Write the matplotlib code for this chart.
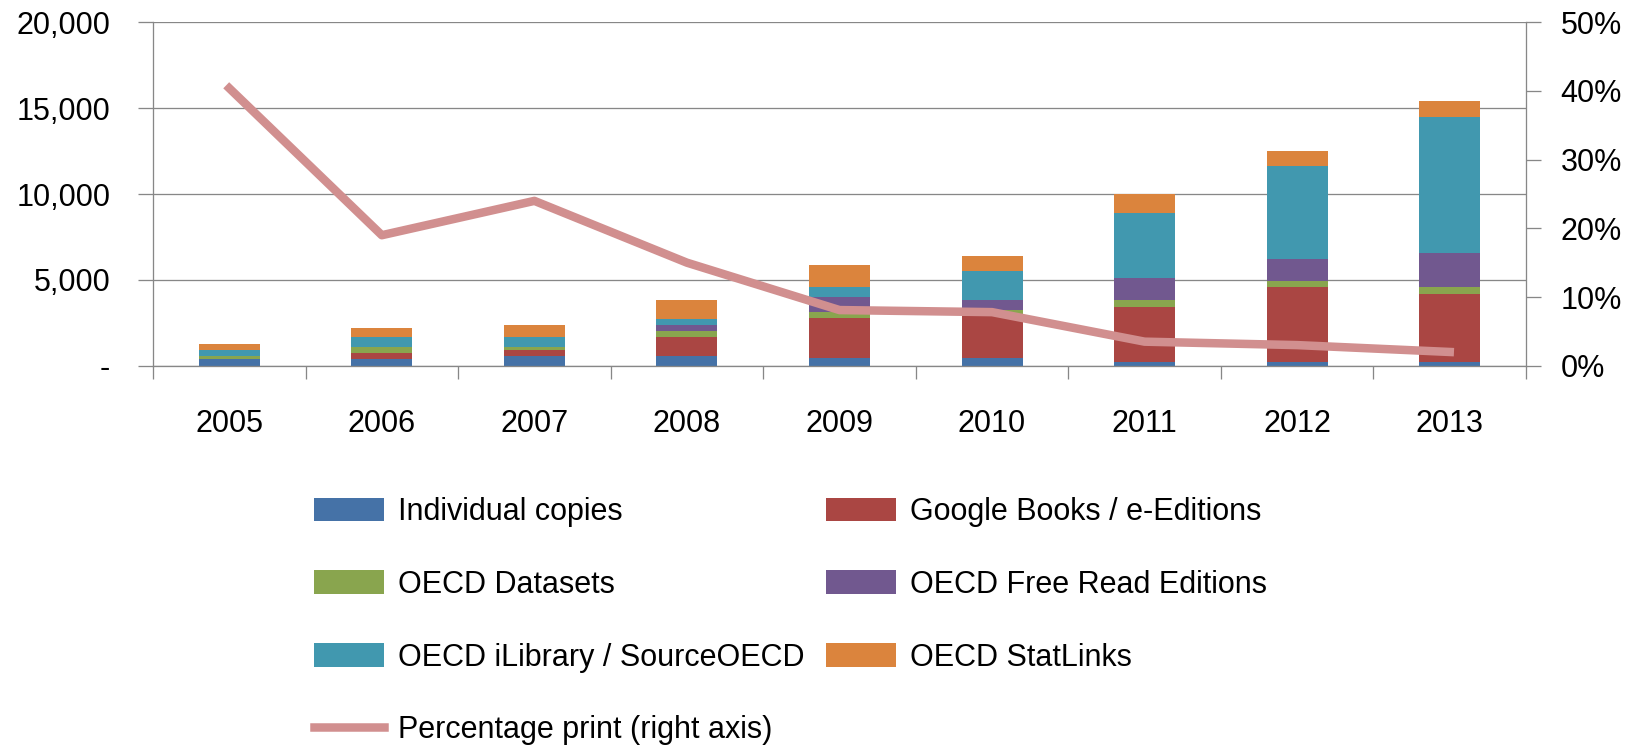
import numpy as np
import matplotlib.pyplot as plt
from matplotlib.ticker import FuncFormatter

plt.rcParams['font.family'] = ['Liberation Sans', 'DejaVu Sans']
plt.rcParams['font.size'] = 22

years = ['2005', '2006', '2007', '2008', '2009', '2010', '2011', '2012', '2013']
individual = [370, 390, 545, 545, 430, 430, 235, 235, 235]
google = [0, 330, 350, 1110, 2335, 2490, 3210, 4320, 3970]
datasets = [175, 350, 175, 350, 350, 350, 410, 350, 350]
free_read = [0, 0, 0, 350, 915, 585, 1225, 1285, 1985]
ilibrary = [350, 585, 585, 350, 525, 1635, 3795, 5450, 7940]
statlinks = [350, 525, 700, 1110, 1285, 875, 1110, 855, 935]
pct_print = [0.404, 0.190, 0.240, 0.150, 0.081, 0.078, 0.035, 0.030, 0.020]

series = [
    ('Individual copies', individual, '#4572A7'),
    ('Google Books / e-Editions', google, '#AA4643'),
    ('OECD Datasets', datasets, '#89A54E'),
    ('OECD Free Read Editions', free_read, '#71588F'),
    ('OECD iLibrary / SourceOECD', ilibrary, '#4198AF'),
    ('OECD StatLinks', statlinks, '#DB843D'),
]

grey = '#878787'
px = 0.72  # points per pixel at dpi 100

fig = plt.figure(figsize=(16.4, 7.49), dpi=100)
ax = fig.add_axes([153 / 1640, 1 - 365.7 / 749, (1526 - 153) / 1640, (365.7 - 22.3) / 749])

x = np.arange(len(years))
bottom = np.zeros(len(years))
handles = {}
for name, vals, col in series:
    b = ax.bar(x, vals, 0.40, bottom=bottom, color=col, label=name, zorder=2)
    handles[name] = b
    bottom += np.array(vals)

ax.set_xlim(-0.5, len(years) - 0.5)
ax.set_ylim(0, 20000)
ax.set_yticks(np.arange(0, 20001, 5000))
ax.yaxis.set_major_formatter(FuncFormatter(lambda v, p: '-' if v == 0 else f'{v:,.0f}'))
ax.yaxis.grid(True, color=grey, linewidth=1.3 * px)
ax.set_axisbelow(True)

ax.set_xticks(np.arange(-0.5, len(years), 1.0))
ax.set_xticklabels([])
ax.set_xticks(x, minor=True)
ax.set_xticklabels(years, minor=True)
ax.tick_params(axis='x', which='major', direction='out', length=13 * px, width=1.3 * px, color=grey)
ax.tick_params(axis='x', which='minor', length=0, pad=31)
ax.tick_params(axis='y', direction='out', length=15 * px, width=1.3 * px, color=grey, pad=20)

for s in ['top', 'right']:
    ax.spines[s].set_visible(False)
for s in ['left', 'bottom']:
    ax.spines[s].set_color(grey)
    ax.spines[s].set_linewidth(1.3 * px)

ax2 = ax.twinx()
(line,) = ax2.plot(x, pct_print, color='#D18F8F', linewidth=8.5 * px, label='Percentage print (right axis)', zorder=3)
ax2.set_ylim(0, 0.5)
ax2.set_yticks(np.arange(0, 0.51, 0.1))
ax2.yaxis.set_major_formatter(FuncFormatter(lambda v, p: f'{v * 100:.0f}%'))
ax2.tick_params(axis='y', direction='out', length=15 * px, width=1.3 * px, color=grey, pad=14)
for s in ['top', 'left', 'bottom']:
    ax2.spines[s].set_visible(False)
ax2.spines['right'].set_color(grey)
ax2.spines['right'].set_linewidth(1.3 * px)

order = [
    handles['Individual copies'], handles['OECD Datasets'], handles['OECD iLibrary / SourceOECD'], line,
    handles['Google Books / e-Editions'], handles['OECD Free Read Editions'], handles['OECD StatLinks'],
]
labels = [h.get_label() for h in order]
fig.legend(order, labels, ncol=2, loc='upper left', bbox_to_anchor=(314 / 1640, 1 - 497 / 749),
           frameon=False, borderpad=0, borderaxespad=0, handlelength=2.29, handleheight=0.82,
           handletextpad=0.46, labelspacing=1.4, columnspacing=0.69, fontsize=22)

fig.savefig('out.png', dpi=100)
